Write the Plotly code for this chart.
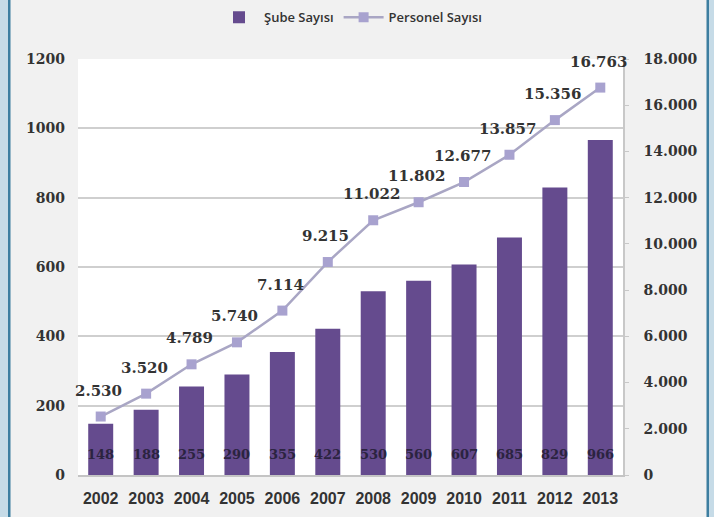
import plotly.graph_objects as go

years = ["2002", "2003", "2004", "2005", "2006", "2007", "2008", "2009", "2010", "2011", "2012", "2013"]
sube = [148, 188, 255, 290, 355, 422, 530, 560, 607, 685, 829, 966]
personel = [2530, 3520, 4789, 5740, 7114, 9215, 11022, 11802, 12677, 13857, 15356, 16763]

left_ticks = [0, 200, 400, 600, 800, 1000, 1200]
left_ticktext = ["0", "200", "400", "600", "800", "1000", "1200"]
right_ticks = [0, 2000, 4000, 6000, 8000, 10000, 12000, 14000, 16000, 18000]
right_ticktext = ["0", "2.000", "4.000", "6.000", "8.000", "10.000", "12.000", "14.000", "16.000", "18.000"]


def tr(v):
    return f"{v:,}".replace(",", ".")


BAR = "#654b8e"
TICKFONT = dict(family="DejaVu Serif", size=14, color="#333333", weight="bold")

fig = go.Figure()
fig.add_trace(go.Bar(
    x=years, y=sube, name="Şube Sayısı", marker=dict(color=BAR, line=dict(width=0)),
    yaxis="y",
))
fig.add_trace(go.Scatter(
    x=years, y=personel, name="Personel Sayısı", mode="lines+markers",
    line=dict(color="#a9a6c4", width=2.5),
    marker=dict(symbol="square", size=10, color="#a8a2cf"),
    yaxis="y2",
))

annotations = []
for i, v in enumerate(sube):
    annotations.append(dict(
        x=i, y=0, xref="x", yref="y", text=str(v), showarrow=False,
        yshift=21, yanchor="middle",
        font=dict(family="DejaVu Serif", size=13, color="#2b2340", weight="bold"),
    ))
for i, v in enumerate(personel):
    annotations.append(dict(
        x=i, y=v, xref="x", yref="y2", text=tr(v), showarrow=False,
        yshift=26, xshift=-2, yanchor="middle",
        font=dict(family="DejaVu Serif", size=15, color="#333333", weight="bold"),
    ))

shapes = [
    dict(type="rect", xref="paper", yref="paper", xsizemode="pixel", ysizemode="pixel",
         xanchor=0, yanchor=0, x0=-80, x1=-70, y0=-60, y1=480,
         fillcolor="#c6dbe7", line=dict(width=0), layer="above"),
    dict(type="rect", xref="paper", yref="paper", xsizemode="pixel", ysizemode="pixel",
         xanchor=0, yanchor=0, x0=-70, x1=-67.5, y0=-60, y1=480,
         fillcolor="#3d7ea0", line=dict(width=0), layer="above"),
    dict(type="rect", xref="paper", yref="paper", xsizemode="pixel", ysizemode="pixel",
         xanchor=1, yanchor=0, x0=83.5, x1=86, y0=-60, y1=480,
         fillcolor="#3d7ea0", line=dict(width=0), layer="above"),
    dict(type="rect", xref="paper", yref="paper", xsizemode="pixel", ysizemode="pixel",
         xanchor=1, yanchor=0, x0=86, x1=100, y0=-60, y1=480,
         fillcolor="#c6dbe7", line=dict(width=0), layer="above"),
]

fig.update_layout(
    width=714, height=517,
    margin=dict(l=78, r=91, t=59, b=42, autoexpand=False),
    paper_bgcolor="#f1f1f1", plot_bgcolor="#ffffff",
    bargap=0.45,
    showlegend=True,
    legend=dict(orientation="h", x=0.5, xanchor="center", y=1.1, yanchor="middle",
                font=dict(family="Open Sans", size=13, color="#333333", weight=600),
                bgcolor="rgba(0,0,0,0)", itemwidth=40),
    xaxis=dict(type="category", range=[-0.5, len(years) - 0.5],
               tickfont=dict(family="Liberation Sans", size=16, color="#333333", weight="bold"),
               showline=True, linecolor="#c4c4c4", linewidth=1.5, ticks="", ticklabelstandoff=8,
               showgrid=False),
    yaxis=dict(range=[0, 1200], tickvals=left_ticks, ticktext=left_ticktext, tickfont=TICKFONT,
               showgrid=True, gridcolor="#cfcfcf", gridwidth=1.5, zeroline=False,
               showline=False, ticks="", ticklabelstandoff=12),
    yaxis2=dict(range=[0, 18000], tickvals=right_ticks, ticktext=right_ticktext, tickfont=TICKFONT,
                overlaying="y", side="right", showgrid=False, zeroline=False,
                showline=True, linecolor="#c8c8c8", linewidth=1.5,
                ticks="outside", ticklen=4, tickcolor="#c8c8c8", ticklabelstandoff=12),
    annotations=annotations,
    shapes=shapes,
)

fig.write_html("out.html", config={"displayModeBar": False},
               post_script="document.body.style.margin='0';document.body.style.overflow='hidden';")
